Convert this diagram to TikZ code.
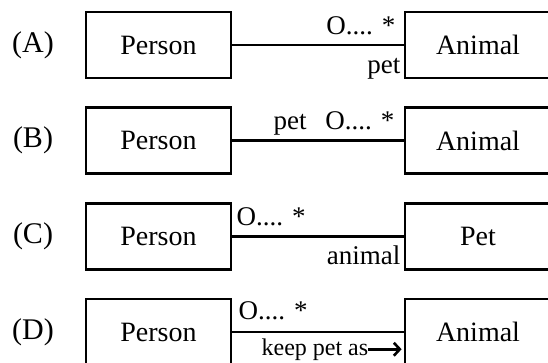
\documentclass[tikz,border=0pt]{standalone}
\usepackage{fontspec}
\setmainfont{Liberation Serif}
\usetikzlibrary{calc,arrows.meta}
\begin{document}
\begin{tikzpicture}[x=1pt,y=-1pt,
    cls/.style={draw,line width=2.8pt,minimum width=145pt,minimum height=66pt,inner sep=0pt,font=\fontsize{28}{30}\selectfont},
    mult/.style={inner sep=0pt,font=\fontsize{27}{29}\selectfont},
    tag/.style={font=\fontsize{30}{32}\selectfont}]
\useasboundingbox (0,0) rectangle (548,362);
\foreach \r/\y/\cname in {A/45/Animal,B/140.7/Animal,C/236.4/Pet,D/332/Animal}{
    \node[tag] (lab\r) at (33,\y) {(\r)};
    \node[cls] (person\r) at (158.5,\y) {Person};
    \node[cls,minimum width=146pt] (target\r) at (478,\y) {\cname};
    \draw[line width=2.6pt] (person\r) -- (target\r);
}

% (A) multiplicity and role at the far end
\node[mult,anchor=base east] (multA) at ($(targetA.west)+(-8,-11)$) {O.... *};
\node[mult,anchor=base east] (roleA) at ($(targetA.west)+(-3,28)$) {pet};
% (B) both above the line
\node[mult,anchor=base east] (multB) at ($(targetB.west)+(-9,-11)$) {pet\hspace{0.7em}O.... *};
% (C) multiplicity at the near end
\node[mult,anchor=base west] (multC) at ($(personC.east)+(4,-11)$) {O.... *};
\node[mult,anchor=base east] (roleC) at ($(targetC.west)+(-3,28)$) {animal};
% (D) with a reading direction
\node[mult,anchor=base west] (multD) at ($(personD.east)+(6,-13)$) {O.... *};
\node[inner sep=0pt,anchor=base west,font=\fontsize{24}{26}\selectfont] (keepD) at ($(personD.east)+(29,23)$) {keep pet as};
\draw[line width=2.6pt,-{Straight Barb[length=6pt,width=13pt]},shorten >=2pt] (keepD.east) -- (keepD.east -| targetD.west);
\end{tikzpicture}
\end{document}
